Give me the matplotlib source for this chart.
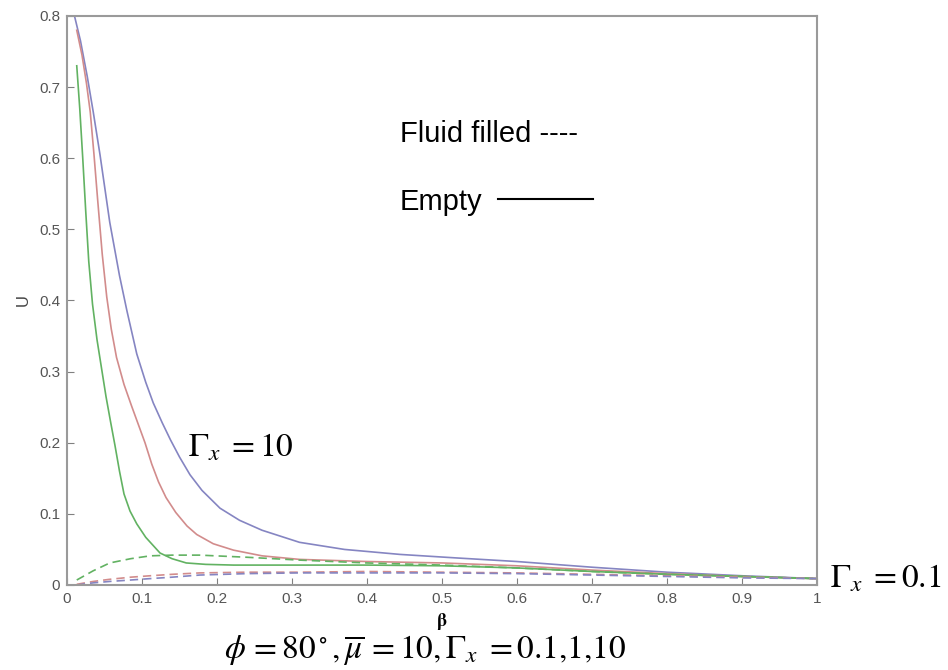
import matplotlib.pyplot as plt

plt.rcParams['font.family'] = ['Liberation Sans', 'DejaVu Sans']
plt.rcParams['mathtext.fontset'] = 'stix'

# Empty (solid) curves
beta_blue = [0.010, 0.018, 0.027, 0.035, 0.044, 0.057, 0.070, 0.080, 0.093, 0.105, 0.115, 0.127,
             0.138, 0.150, 0.164, 0.180, 0.204, 0.230, 0.260, 0.310, 0.370, 0.444, 0.520, 0.600,
             0.700, 0.800, 0.900, 1.000]
u_blue    = [0.800, 0.765, 0.715, 0.665, 0.605, 0.510, 0.435, 0.385, 0.325, 0.285, 0.256, 0.228,
             0.204, 0.180, 0.155, 0.133, 0.108, 0.091, 0.077, 0.060, 0.050, 0.043, 0.038, 0.033,
             0.025, 0.018, 0.013, 0.009]

beta_red = [0.013, 0.020, 0.026, 0.031, 0.036, 0.041, 0.047, 0.053, 0.059, 0.066, 0.076, 0.086,
            0.095, 0.104, 0.113, 0.122, 0.132, 0.145, 0.160, 0.173, 0.195, 0.222, 0.260, 0.310,
            0.400, 0.500, 0.600, 0.700, 0.800, 0.900, 1.000]
u_red    = [0.780, 0.745, 0.705, 0.665, 0.605, 0.540, 0.465, 0.405, 0.360, 0.320, 0.282, 0.252,
            0.226, 0.200, 0.170, 0.145, 0.123, 0.102, 0.083, 0.071, 0.058, 0.049, 0.041, 0.036,
            0.033, 0.031, 0.027, 0.021, 0.016, 0.012, 0.009]

beta_green = [0.013, 0.017, 0.021, 0.025, 0.029, 0.034, 0.040, 0.046, 0.052, 0.058, 0.064, 0.070,
              0.076, 0.084, 0.093, 0.105, 0.124, 0.140, 0.159, 0.185, 0.222, 0.300, 0.400, 0.500,
              0.600, 0.700, 0.800, 0.900, 1.000]
u_green    = [0.730, 0.670, 0.600, 0.525, 0.455, 0.395, 0.345, 0.305, 0.265, 0.230, 0.196, 0.160,
              0.128, 0.104, 0.086, 0.067, 0.045, 0.037, 0.031, 0.029, 0.028, 0.028, 0.028, 0.027,
              0.024, 0.019, 0.015, 0.012, 0.009]

# Fluid filled (dashed) curves
beta_d = [0.013, 0.035, 0.057, 0.085, 0.111, 0.140, 0.177, 0.240, 0.310, 0.400, 0.500, 0.600,
          0.700, 0.800, 0.900, 1.000]
u_green_d = [0.007, 0.020, 0.031, 0.037, 0.041, 0.042, 0.042, 0.039, 0.035, 0.031, 0.028, 0.024,
             0.019, 0.015, 0.012, 0.009]
u_red_d   = [0.001, 0.005, 0.008, 0.011, 0.013, 0.015, 0.017, 0.018, 0.018, 0.019, 0.018, 0.017,
             0.015, 0.013, 0.011, 0.009]
u_blue_d  = [0.000, 0.003, 0.005, 0.007, 0.009, 0.011, 0.014, 0.016, 0.017, 0.017, 0.017, 0.016,
             0.014, 0.012, 0.010, 0.009]

BLUE = '#8585c2'
RED = '#d28c8c'
GREEN = '#62b262'
GRAY = '#808080'

fig = plt.figure(figsize=(9.48, 6.70), dpi=100)
ax = fig.add_axes([67 / 948, 85 / 670, 750 / 948, 569 / 670])

ax.plot(beta_blue, u_blue, color=BLUE, lw=1.2)
ax.plot(beta_red, u_red, color=RED, lw=1.2)
ax.plot(beta_green, u_green, color=GREEN, lw=1.2)
ax.plot(beta_d, u_green_d, color=GREEN, lw=1.2, ls=(0, (5, 3)))
ax.plot(beta_d, u_red_d, color=RED, lw=1.2, ls=(0, (5, 3)))
ax.plot(beta_d, u_blue_d, color=BLUE, lw=1.2, ls=(0, (5, 3)))

ax.set_xlim(0, 1)
ax.set_ylim(0, 0.8)
ax.set_xticks([0, 0.1, 0.2, 0.3, 0.4, 0.5, 0.6, 0.7, 0.8, 0.9, 1])
ax.set_xticklabels(['0', '0.1', '0.2', '0.3', '0.4', '0.5', '0.6', '0.7', '0.8', '0.9', '1'])
ax.set_yticks([0, 0.1, 0.2, 0.3, 0.4, 0.5, 0.6, 0.7, 0.8])
ax.set_yticklabels(['0', '0.1', '0.2', '0.3', '0.4', '0.5', '0.6', '0.7', '0.8'])
ax.tick_params(direction='in', length=5, color=GRAY, labelcolor='#555555', labelsize=11, pad=5)
for s in ax.spines.values():
    s.set_color('#9a9a9a')
    s.set_linewidth(1.5)

ax.set_xlabel(r'$\mathbf{\beta}$', fontsize=13, labelpad=4)
ax.set_ylabel('U', fontsize=12, color='#444444', labelpad=6)

# legend-like annotations
ax.text(0.444, 0.623, 'Fluid filled ----', fontsize=21, va='baseline', ha='left')
ax.text(0.444, 0.527, 'Empty', fontsize=21, va='baseline', ha='left')
ax.plot([0.575, 0.701], [0.543, 0.543], color='black', lw=1.5)

ax.text(0.161, 0.18, r'$\Gamma_{x}\;=10$', fontsize=24, va='baseline', ha='left')
fig.text(830 / 948, 1 - 587 / 670, r'$\Gamma_{x}\;=0.1$', fontsize=24, va='baseline', ha='left')
fig.text(425 / 948, 11 / 670, r'$\phi\,=80^\circ, \overline{\mu}\,=10, \Gamma_{x}\;=0.1{,}1{,}10$',
         fontsize=24, va='baseline', ha='center')

fig.savefig('out.png', dpi=100)
